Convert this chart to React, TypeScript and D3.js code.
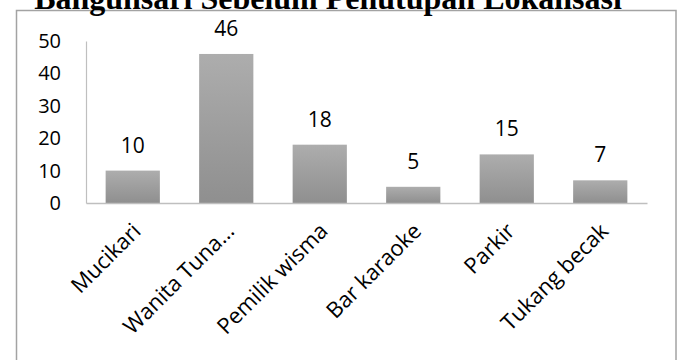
import React, { useEffect, useRef } from "react";
import * as d3 from "d3";

const categories = ["Mucikari", "Wanita Tuna…", "Pemilik wisma", "Bar karaoke", "Parkir", "Tukang becak"];
const values = [10, 46, 18, 5, 15, 7];
const yTicks = [0, 10, 20, 30, 40, 50];
const title = "Bangunsari Sebelum Penutupan Lokalisasi";

export default function App() {
  const ref = useRef<SVGSVGElement>(null);

  useEffect(() => {
    const width = 678;
    const height = 360;
    const plot = { left: 86, right: 647, top: 41, bottom: 203 }; // plot area in px
    const font = "'Open Sans', 'Noto Sans', sans-serif";

    const svg = d3.select(ref.current).attr("width", width).attr("height", height);
    svg.selectAll("*").remove();

    // bar gradient
    const grad = svg.append("defs").append("linearGradient")
      .attr("id", "barGrad").attr("x1", 0).attr("y1", 0).attr("x2", 0).attr("y2", 1);
    grad.append("stop").attr("offset", "0%").attr("stop-color", "#adadad");
    grad.append("stop").attr("offset", "100%").attr("stop-color", "#8f8f8f");

    // chart border (bottom edge runs off the picture)
    svg.append("rect")
      .attr("x", 16.5).attr("y", 10.5).attr("width", 659.5).attr("height", 400)
      .attr("fill", "none").attr("stroke", "#a3a3a3").attr("stroke-width", 1.5);

    // title, partly cut off at the top like in the source
    svg.append("text")
      .attr("x", 328).attr("y", 9)
      .attr("text-anchor", "middle")
      .attr("font-family", "'Liberation Serif', 'Times New Roman', serif")
      .attr("font-weight", "bold").attr("font-size", 32)
      .text(title);

    const x = d3.scaleBand().domain(categories).range([plot.left, plot.right])
      .paddingInner(0.42).paddingOuter(0.21);
    const y = d3.scaleLinear().domain([0, 50]).range([plot.bottom, plot.top]);

    // y axis
    const yAxis = d3.axisLeft(y).tickValues(yTicks).tickSize(0).tickPadding(25);
    const gy = svg.append("g").attr("transform", `translate(${plot.left},0)`).call(yAxis);
    gy.select(".domain").attr("stroke", "#bfbfbf").attr("stroke-width", 1.2);
    gy.selectAll("text").attr("font-family", font).attr("font-size", 20).attr("fill", "#000");

    // bars
    svg.selectAll(".bar").data(values).join("rect").attr("class", "bar")
      .attr("x", (d, i) => x(categories[i])!)
      .attr("y", d => y(d))
      .attr("width", x.bandwidth())
      .attr("height", d => y(0) - y(d))
      .attr("fill", "url(#barGrad)");

    // value labels
    svg.selectAll(".val").data(values).join("text").attr("class", "val")
      .attr("x", (d, i) => x(categories[i])! + x.bandwidth() / 2)
      .attr("y", d => y(d) - 18)
      .attr("text-anchor", "middle")
      .attr("font-family", font).attr("font-size", 21)
      .text(d => d);

    // x axis
    const xAxis = d3.axisBottom(x).tickSize(0).tickFormat(() => "");
    const gx = svg.append("g").attr("transform", `translate(0,${plot.bottom})`).call(xAxis);
    gx.select(".domain").attr("stroke", "#bfbfbf").attr("stroke-width", 1.5);

    // rotated category labels
    svg.selectAll(".cat").data(categories).join("text").attr("class", "cat")
      .attr("transform", d => `translate(${x(d)! + x.bandwidth() / 2 + 4},${plot.bottom + 24}) rotate(-45)`)
      .attr("text-anchor", "end")
      .attr("dy", "0.35em")
      .attr("font-family", font).attr("font-size", 22)
      .text(d => d);
  }, []);

  return (
    <svg ref={ref} style={{ position: "absolute", left: 0, top: 0, background: "#fff" }} />
  );
}
